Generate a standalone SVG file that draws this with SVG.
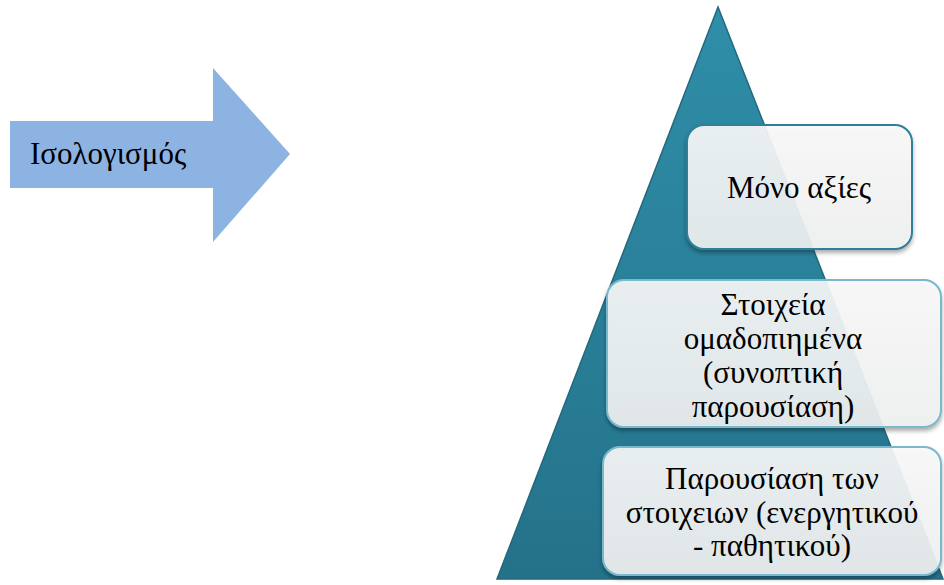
<svg xmlns="http://www.w3.org/2000/svg" width="944" height="585" viewBox="0 0 944 585">
  <defs>
    <linearGradient id="pyr" x1="0" y1="0" x2="0" y2="1">
      <stop offset="0" stop-color="#2f8ea8"/>
      <stop offset="1" stop-color="#24728a"/>
    </linearGradient>
    <linearGradient id="card" x1="0" y1="0" x2="0" y2="1">
      <stop offset="0" stop-color="#fafafa"/>
      <stop offset="1" stop-color="#f1f2f2"/>
    </linearGradient>
    <filter id="shadow" x="-10%" y="-10%" width="120%" height="130%">
      <feGaussianBlur in="SourceAlpha" stdDeviation="2"/>
      <feOffset dy="3"/>
      <feComponentTransfer><feFuncA type="linear" slope="0.35"/></feComponentTransfer>
      <feMerge><feMergeNode/><feMergeNode in="SourceGraphic"/></feMerge>
    </filter>
  </defs>
  <style>
    .lbl { font-family: "Liberation Serif", "Times New Roman", serif; font-size: 31px; fill: #000; text-anchor: middle; }
    .card { fill: url(#card); fill-opacity: 0.9; stroke-width: 2; filter: url(#shadow); }
  </style>
  <rect width="944" height="585" fill="#ffffff"/>

  <!-- block arrow -->
  <g id="arrow">
    <polygon points="10,121 213,121 213,68 290,154 213,242 213,188 10,188" fill="#8db3e2"/>
    <text x="30" y="164" style="font-family:'Liberation Serif','Times New Roman',serif;font-size:31px;fill:#000">Ισολογισμός</text>
  </g>

  <!-- pyramid -->
  <g id="pyramid">
    <polygon points="718,7 943,579 497,579" fill="url(#pyr)" stroke="#23687d" stroke-width="1.5"/>
  </g>

  <g id="level1">
    <rect class="card" x="687" y="125" width="225" height="124" rx="17" stroke="#2e7f98"/>
    <text class="lbl" x="799" y="198">Μόνο αξίες</text>
  </g>

  <g id="level2">
    <rect class="card" x="607" y="280" width="334" height="147" rx="17" stroke="#7ab8cc"/>
    <text class="lbl" x="773" y="315">Στοιχεία</text>
    <text class="lbl" x="773" y="349">ομαδοπιημένα</text>
    <text class="lbl" x="773" y="383">(συνοπτική</text>
    <text class="lbl" x="773" y="417">παρουσίαση)</text>
  </g>

  <g id="level3">
    <rect class="card" x="603" y="447" width="338" height="128" rx="17" stroke="#7ab8cc"/>
    <text class="lbl" x="772" y="489">Παρουσίαση των</text>
    <text class="lbl" x="772" y="523">στοιχειων (ενεργητικού</text>
    <text class="lbl" x="772" y="556">- παθητικού)</text>
  </g>
</svg>
